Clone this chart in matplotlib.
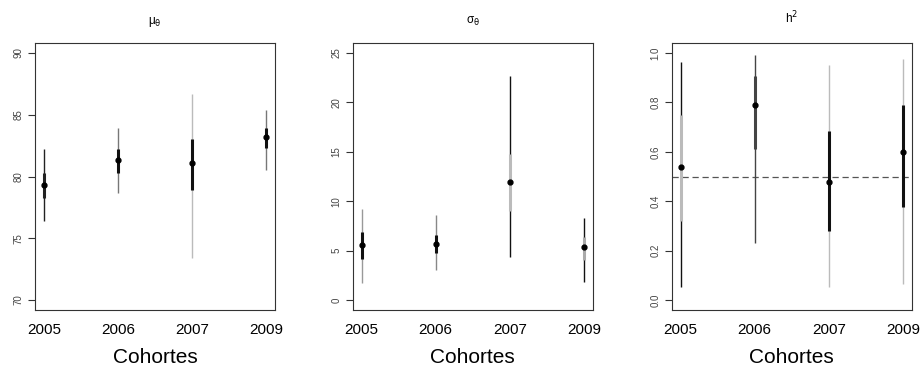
import matplotlib.pyplot as plt
import numpy as np

plt.rcParams['font.family'] = ['Liberation Sans', 'DejaVu Sans']
plt.rcParams['mathtext.fontset'] = 'dejavusans'

cohorts = ["2005", "2006", "2007", "2009"]

# mu_theta: point, 95% interval, 50% interval
mu_mid = [79.3, 81.3, 81.1, 83.2]
mu_lo95 = [76.4, 78.7, 73.4, 80.5]
mu_hi95 = [82.2, 83.9, 86.7, 85.4]
mu_lo50 = [78.3, 80.3, 78.9, 82.3]
mu_hi50 = [80.3, 82.2, 83.0, 83.9]

# sigma_theta
sd_mid = [5.6, 5.7, 11.9, 5.4]
sd_lo95 = [1.7, 3.0, 4.4, 1.8]
sd_hi95 = [9.25, 8.6, 22.7, 8.3]
sd_lo50 = [4.2, 4.8, 9.0, 4.1]
sd_hi50 = [6.85, 6.6, 14.8, 6.4]

# h^2
h2_mid = [0.537, 0.789, 0.479, 0.599]
h2_lo95 = [0.053, 0.231, 0.055, 0.067]
h2_hi95 = [0.963, 0.99, 0.951, 0.974]
h2_lo50 = [0.318, 0.612, 0.281, 0.375]
h2_hi50 = [0.750, 0.908, 0.685, 0.790]

# line colours as drawn in the original figure
thin_cols = [["#222222", "#777777", "#bbbbbb", "#777777"],
             ["#999999", "#888888", "#111111", "#111111"],
             ["#111111", "#444444", "#bbbbbb", "#bbbbbb"]]
thick_cols = [["#222222", "#111111", "#111111", "#111111"],
              ["#111111", "#111111", "#bbbbbb", "#aaaaaa"],
              ["#bbbbbb", "#444444", "#111111", "#111111"]]

panels = [
    (r"μ$_{\mathrm{θ}}$", mu_mid, mu_lo95, mu_hi95, mu_lo50, mu_hi50, (70, 90), [70, 75, 80, 85, 90], None),
    (r"σ$_{\mathrm{θ}}$", sd_mid, sd_lo95, sd_hi95, sd_lo50, sd_hi50, (0, 25), [0, 5, 10, 15, 20, 25], None),
    (r"h$^2$", h2_mid, h2_lo95, h2_hi95, h2_lo50, h2_hi50, (0, 1), [0.0, 0.2, 0.4, 0.6, 0.8, 1.0], "%.1f"),
]

fig = plt.figure(figsize=(9.23, 3.71), dpi=100)
lefts = [35 / 923, 352.7 / 923, 671.7 / 923]
x = np.arange(1, len(cohorts) + 1)

for i, (title, mid, lo95, hi95, lo50, hi50, yr, yt, fmt) in enumerate(panels):
    ax = fig.add_axes([lefts[i], 1 - 310 / 371, 240 / 923, 267 / 371])
    pad = (yr[1] - yr[0]) * 0.04
    ax.set_ylim(yr[0] - pad, yr[1] + pad)
    ax.set_xlim(0.88, 4.12)
    if i == 2:
        ax.axhline(0.5, color="#555555", lw=0.9, ls=(0, (5, 3)), zorder=1)
    for j in range(len(x)):
        ax.vlines(x[j], lo95[j], hi95[j], color=thin_cols[i][j], lw=1.0, zorder=2)
        ax.vlines(x[j], lo50[j], hi50[j], color=thick_cols[i][j], lw=2.2, zorder=3)
    ax.plot(x, mid, "o", color="black", ms=3.5, zorder=4)

    ax.set_xticks(x)
    ax.set_xticklabels(cohorts, fontsize=11)
    ax.tick_params(axis="x", length=0, pad=9)
    ax.set_yticks(yt)
    if fmt:
        ax.set_yticklabels([fmt % v for v in yt])
    ax.tick_params(axis="y", labelsize=7, labelcolor="#444444", length=5, width=0.8,
                   color="#333333", labelrotation=90, pad=3)
    for lab in ax.get_yticklabels():
        lab.set_verticalalignment("center")
    for s in ax.spines.values():
        s.set_color("#333333")
        s.set_linewidth(0.8)
    ax.set_title(title, fontsize=8.5, pad=14)
    ax.set_xlabel("Cohortes", fontsize=15, labelpad=8)

plt.savefig("out.png", dpi=100)
